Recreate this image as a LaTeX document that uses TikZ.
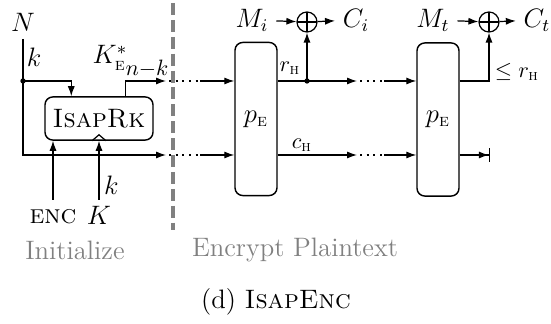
\documentclass[tikz,border=0pt]{standalone}
\usepackage{amsmath,amssymb}
\usepackage{tikz}
\usetikzlibrary{arrows.meta,positioning,calc}

\begin{document}
\begin{tikzpicture}[x=0.45pt,y=-0.45pt,font=\large,
  >={Latex[length=4.5pt,width=3.2pt]},
  wire/.style={->,line width=0.55pt},
  dots/.style={line width=0.9pt,dash pattern=on 0.9pt off 2.1pt},
  perm/.style={draw,line width=0.65pt,rounded corners=3.5pt,minimum width=18.9pt,minimum height=68.9pt,inner sep=0pt},
  xor/.style={draw,circle,line width=0.55pt,minimum size=9pt,inner sep=0pt,
    path picture={\draw[line width=0.55pt] (path picture bounding box.north) -- (path picture bounding box.south)
      (path picture bounding box.west) -- (path picture bounding box.east);}},
  phase/.style={text=black!50}]
  \useasboundingbox (0,0) rectangle (551,324);
  % initialisation
  \node (N) at (23,22) {$N$};
  \node at (34,57) {$k$};
  \coordinate (split) at (23,81);
  \node[draw,line width=0.65pt,rounded corners=3.5pt,minimum width=48.6pt,minimum height=19.4pt] (rk) at (99,118.5) {\textsc{IsapRk}};
  \node[anchor=north,inner sep=4pt] (enc) at (53,200) {\textsc{enc}};
  \node[anchor=north,inner sep=2.5pt] (K) at (99,200) {$K$};
  \coordinate (out1) at (166,81);
  \coordinate (out2) at (166,155);
  \draw[wire] (N.south) |- (out2);
  \fill (split) circle (1.2pt);
  \draw[wire] (split) -| ($(rk.north west)+(27,0)$);
  \draw[wire] ($(rk.north west)+(81,0)$) |- (out1);
  \draw[wire] (enc.north) -- (enc.north |- rk.south);
  \draw[wire] (K.north) -- (K.north |- rk.south) node[pos=0.25,right,inner sep=2pt] {$k$};
  \draw[line width=0.55pt] ($(rk.south)+(-7,0)$) -- ($(rk.south)+(0,-6)$) -- ($(rk.south)+(7,0)$);
  \node at (110,58) {$K_{\textsc{e}}^*$};
  \node at (147,69) {\normalsize$n{-}k$};
  % phase divider
  \draw[black!50,line width=1.4pt,dash pattern=on 5.4pt off 2.2pt] (173,3) -- (173,230);
  \node[phase] at (75,250) {Initialize};
  \node[phase] at (295,250) {Encrypt Plaintext};
  % encryption
  \node[perm] (pe1) at (256,119) {$p_{\textsc{e}}$};
  \node[perm] (pe2) at (438,119.5) {$p_{\textsc{e}}$};
  \coordinate (a1) at (200,81);
  \coordinate (a2) at (200,155);
  \coordinate (b1) at (357,81);
  \coordinate (b2) at (357,155);
  \coordinate (c1) at (384,81);
  \coordinate (c2) at (384,155);
  \foreach \r in {1,2}{
    \draw[dots] ($(out\r)+(3,0)$) -- (a\r);
    \draw[wire] (a\r) -- (a\r -| pe1.west);
    \draw[wire] (a\r -| pe1.east) -- (b\r);
    \draw[dots] ($(b\r)+(3,0)$) -- (c\r);
    \draw[wire] (c\r) -- (c\r -| pe2.west);
  }
  \node at (290,68) {\normalsize$r_{\textsc{h}}$};
  \node at (302,145) {\normalsize$c_{\textsc{h}}$};
  \coordinate (tap) at (307,81);
  \fill (tap) circle (1.2pt);
  \node[xor] (xor1) at (307,22) {};
  \node (Mi) at (252,20) {$M_i$};
  \node (Ci) at (356,20) {$C_i$};
  \draw[wire] (tap) -- (xor1.south);
  \draw[wire] (Mi) -- (xor1);
  \draw[wire] (xor1) -- (Ci);
  % last block
  \node[xor] (xor2) at (489,22) {};
  \node (Mt) at (433,20) {$M_t$};
  \node (Ct) at (537,20) {$C_t$};
  \coordinate (trunc) at (490,155);
  \draw[wire] (Mt) -- (xor2);
  \draw[wire] (xor2) -- (Ct);
  \draw[wire] (a1 -| pe2.east) -| (xor2.south);
  \draw[-{Latex[length=4.5pt,width=3.2pt]Bar[width=6pt]},line width=0.55pt] (a2 -| pe2.east) -- (trunc);
  \node at (517,72) {\normalsize$\le r_{\textsc{h}}$};
  \node at (276,302) {(d) \textsc{IsapEnc}};
\end{tikzpicture}
\end{document}
